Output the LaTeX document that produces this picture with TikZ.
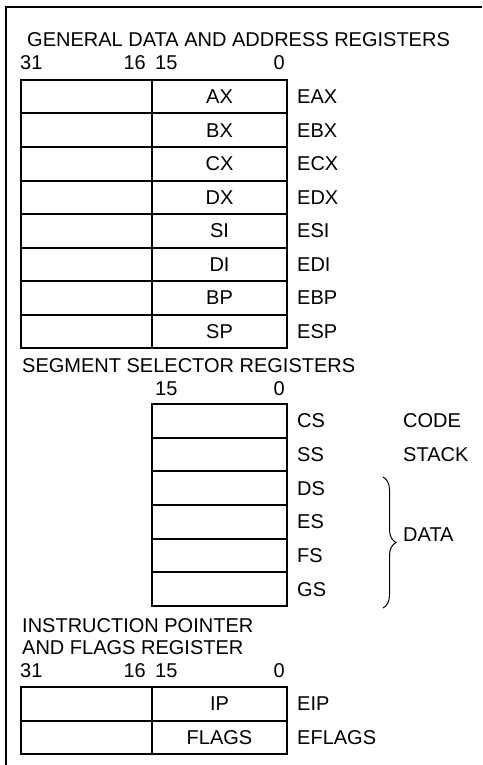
\documentclass[tikz,border=0pt]{standalone}
\usepackage{fontspec}
\setmainfont{Liberation Sans}
\usetikzlibrary{positioning,decorations.pathreplacing}

\begin{document}
\begin{tikzpicture}[
    x=1pt, y=-1pt,
    font=\fontsize{20}{22}\selectfont,
    hicell/.style={draw, line width=2pt, minimum width=131pt,
                   minimum height=33.5pt, inner sep=0pt},
    locell/.style={draw, line width=2pt, minimum width=135pt,
                   minimum height=33.5pt, inner sep=0pt},
    regname/.style={anchor=west, inner sep=0pt},
    heading/.style={anchor=base west, inner sep=0pt},
    bitnum/.style={inner sep=0pt},
    frame/.style={line width=2pt},
    databrace/.style={decorate, line width=1pt,
                      decoration={brace, amplitude=13pt}},
]
\useasboundingbox (0,0) rectangle (482,765);

% --- outer frame (cut off on the right and at the bottom) ---
\draw[frame] (6,765) -- (6,7) -- (482,7);

% --- general data and address registers ---
\node[heading] (gentitle) at (27,47) {GENERAL DATA AND ADDRESS REGISTERS};
\node[bitnum, anchor=base west] (genb31) at (20,70) {31};
\node[bitnum, anchor=base east] (genb16) at (146,70) {16};
\node[bitnum, anchor=base west] (genb15) at (155,70) {15};
\node[bitnum, anchor=base east] (genb0)  at (285,70) {0};

\foreach \reg [count=\i from 0] in {AX,BX,CX,DX,SI,DI,BP,SP} {
  \node[hicell] (hi\reg) at (86.5,{96.75+33.5*\i}) {};
  \node[locell] (lo\reg) at (219.5,{96.75+33.5*\i}) {\reg};
  \node[regname, right=9pt of lo\reg] (e\reg) {E\reg};
}

% --- segment selector registers ---
\node[heading] (segtitle) at (22,372) {SEGMENT SELECTOR REGISTERS};
\node[bitnum, anchor=base west] (segb15) at (155,395) {15};
\node[bitnum, anchor=base east] (segb0)  at (285,395) {0};

\foreach \seg [count=\i from 0] in {CS,SS,DS,ES,FS,GS} {
  \node[locell, minimum height=33.67pt] (seg\seg) at (219.5,{404+33.67*(\i+0.5)}) {};
  \node[regname, right=9pt of seg\seg] (name\seg) {\seg};
}
\node[regname, right=115pt of segCS] (code)  {CODE};
\node[regname, right=115pt of segSS] (stack) {STACK};

\coordinate (bracetop) at (383,477);
\coordinate (bracebot) at (383,608);
\draw[databrace] (bracetop) -- (bracebot);
\node[regname] (data) at (403,535) {DATA};

% --- instruction pointer and flags register ---
\node[heading] (iptitle)  at (22,632) {INSTRUCTION POINTER};
\node[heading] (iptitle2) at (22,654) {AND FLAGS REGISTER};
\node[bitnum, anchor=base west] (ipb31) at (20,677) {31};
\node[bitnum, anchor=base east] (ipb16) at (146,677) {16};
\node[bitnum, anchor=base west] (ipb15) at (155,677) {15};
\node[bitnum, anchor=base east] (ipb0)  at (285,677) {0};

\node[hicell] (hiIP)    at (86.5,703.75) {};
\node[locell] (loIP)    at (219.5,703.75) {IP};
\node[regname, right=9pt of loIP] (eIP) {EIP};
\node[hicell] (hiFLAGS) at (86.5,737.25) {};
\node[locell] (loFLAGS) at (219.5,737.25) {FLAGS};
\node[regname, right=9pt of loFLAGS] (eFLAGS) {EFLAGS};
\end{tikzpicture}
\end{document}
